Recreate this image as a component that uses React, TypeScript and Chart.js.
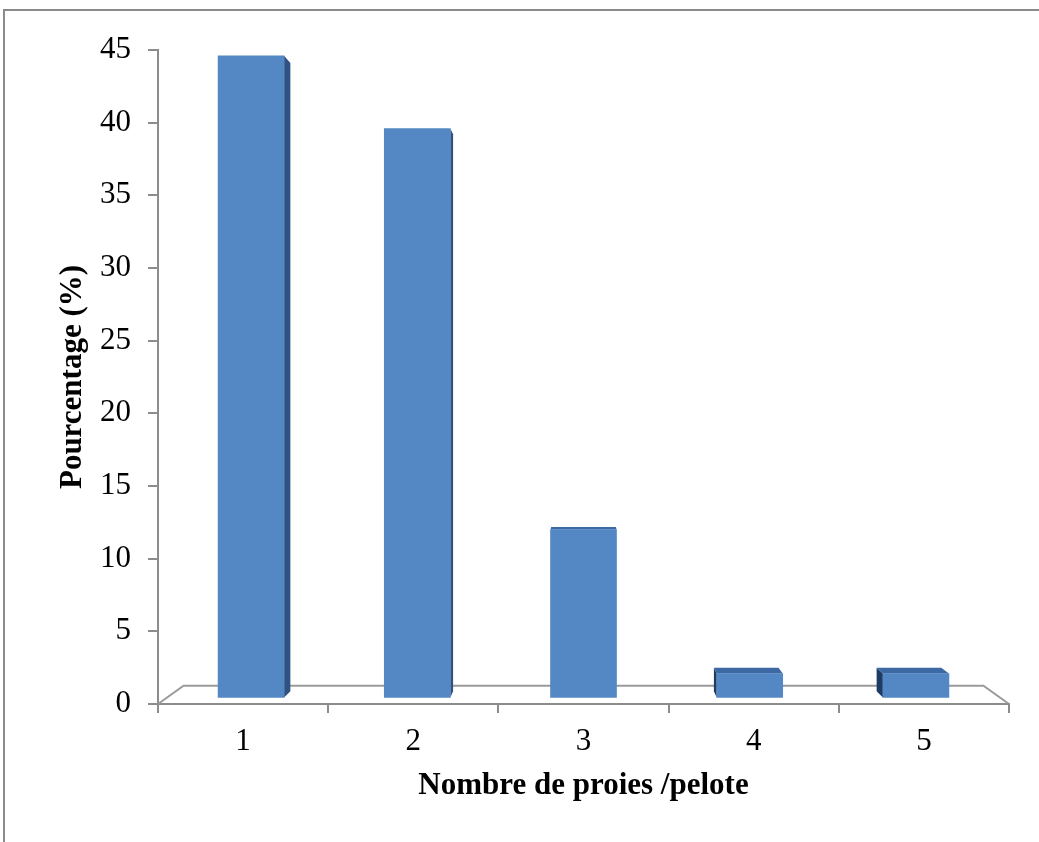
import React, { useEffect, useRef } from "react";
import { Chart, registerables } from "chart.js";

Chart.register(...registerables);

const categories = ["1", "2", "3", "4", "5"];
const percentages = [44.6, 39.6, 12.0, 2.1, 2.1];
const yTicks = [0, 5, 10, 15, 20, 25, 30, 35, 40, 45];
const yTitle = "Pourcentage (%)";
const xTitle = "Nombre de proies /pelote";

const FRONT = "#5388c4";
const SIDE = "#2f5282";
const TOP = "#3c69a4";
const LEFTSIDE = "#1f3b63";
const AXIS = "#8c8c8c";

const threeD = {
  id: "threeD",
  beforeDatasetsDraw(chart: any) {
    const ctx = chart.ctx;
    const area = chart.chartArea;
    const vx = (area.left + area.right) / 2;
    const vy = 400;
    const proj = (x: number, y: number, s: number) => [vx + (x - vx) * s, vy + (y - vy) * s];
    // floor
    const fs = 0.94;
    const [blx, bly] = proj(area.left, area.bottom, fs);
    const [brx, bry] = proj(area.right, area.bottom, fs);
    ctx.save();
    ctx.strokeStyle = "#9a9a9a";
    ctx.lineWidth = 2;
    ctx.beginPath();
    ctx.moveTo(area.left, area.bottom);
    ctx.lineTo(blx, bly);
    ctx.lineTo(brx, bry);
    ctx.lineTo(area.right, area.bottom);
    ctx.stroke();
    // bar depth faces
    const meta = chart.getDatasetMeta(0);
    const s = 0.979;
    meta.data.forEach((bar: any) => {
      const p = bar.getProps(["x", "y", "base", "width"], true);
      const L = p.x - p.width / 2;
      const R = p.x + p.width / 2;
      const T = p.y;
      const B = p.base;
      const [bL, bT] = proj(L, T, s);
      const [bR, bB] = proj(R, B, s);
      if (R < vx - 1) {
        ctx.fillStyle = SIDE;
        ctx.beginPath();
        ctx.moveTo(R, T);
        ctx.lineTo(bR, bT);
        ctx.lineTo(bR, bB);
        ctx.lineTo(R, B);
        ctx.closePath();
        ctx.fill();
      }
      if (L > vx + 1) {
        ctx.fillStyle = LEFTSIDE;
        ctx.beginPath();
        ctx.moveTo(L, T);
        ctx.lineTo(bL, bT);
        ctx.lineTo(bL, bB);
        ctx.lineTo(L, B);
        ctx.closePath();
        ctx.fill();
      }
      if (bT < T) {
        ctx.fillStyle = TOP;
        ctx.beginPath();
        ctx.moveTo(L, T);
        ctx.lineTo(bL, bT);
        ctx.lineTo(bR, bT);
        ctx.lineTo(R, T);
        ctx.closePath();
        ctx.fill();
      }
    });
    ctx.restore();
  },
};

export default function App() {
  const ref = useRef<HTMLCanvasElement | null>(null);
  useEffect(() => {
    if (!ref.current) return;
    const font = "'Liberation Serif', 'Times New Roman', serif";
    const chart = new Chart(ref.current, {
      type: "bar",
      data: {
        labels: categories,
        datasets: [
          {
            data: categories.map((c, i) => ({ x: i + 1, y: percentages[i] })),
            xAxisID: "xb",
            backgroundColor: FRONT,
            borderWidth: 0,
            barThickness: 66,
            base: 0.45,
          } as any,
        ],
      },
      plugins: [threeD],
      options: {
        animation: false,
        responsive: false,
        maintainAspectRatio: false,
        layout: { padding: { left: 0, top: 50, right: 30, bottom: 0 } },
        plugins: { legend: { display: false }, tooltip: { enabled: false } },
        scales: {
          xb: {
            type: "linear",
            display: false,
            min: 0.44,
            max: 5.56,
            offset: false,
          },
          x: {
            type: "category",
            afterFit: (scale: any) => {
              scale.height = 138;
            },
            grid: {
              display: true,
              drawOnChartArea: false,
              tickLength: 9,
              color: AXIS,
              lineWidth: 2,
              offset: true,
            },
            offset: true,
            border: { display: true, color: AXIS, width: 2 },
            ticks: {
              color: "#000",
              padding: 10,
              font: { family: font, size: 31 },
            },
            title: {
              display: true,
              text: xTitle,
              color: "#000",
              padding: { top: 0, bottom: 37 },
              font: { family: font, size: 31, weight: "bold" },
            },
          },
          y: {
            min: 0,
            max: 45,
            afterFit: (scale: any) => {
              scale.width = 158;
            },
            afterBuildTicks: (scale: any) => {
              scale.ticks = yTicks.map((v) => ({ value: v }));
            },
            grid: {
              display: true,
              drawOnChartArea: false,
              tickLength: 10,
              color: AXIS,
              lineWidth: 2,
            },
            border: { display: true, color: AXIS, width: 2 },
            ticks: {
              color: "#000",
              padding: 17,
              font: { family: font, size: 31 },
            },
            title: {
              display: true,
              text: yTitle,
              color: "#000",
              padding: { top: 54, bottom: 0 },
              font: { family: font, size: 31, weight: "bold" },
            },
          },
        },
      } as any,
    });
    return () => chart.destroy();
  }, []);
  return (
    <div style={{ position: "absolute", left: 0, top: 0, width: 1039, height: 842, background: "#fff", overflow: "hidden" }}>
      <canvas ref={ref} width={1039} height={842} style={{ position: "absolute", left: 0, top: 0, width: 1039, height: 842 }} />
      <div
        style={{
          position: "absolute",
          left: 3,
          top: 9,
          width: 1100,
          height: 900,
          borderTop: "2px solid #8a8a8a",
          borderLeft: "2px solid #8a8a8a",
          pointerEvents: "none",
        }}
      />
    </div>
  );
}
